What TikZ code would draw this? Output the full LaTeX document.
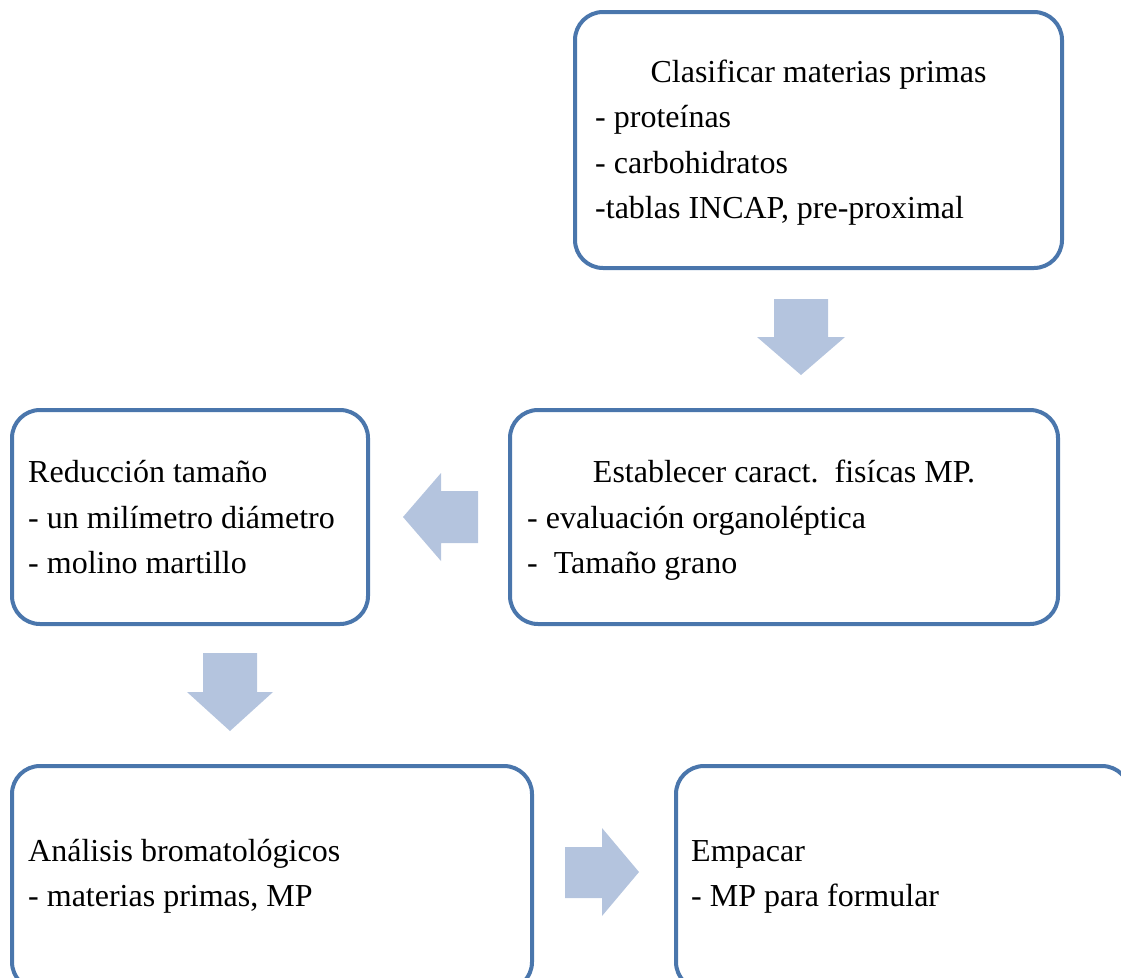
\documentclass[tikz,border=0pt]{standalone}
\usepackage{fontspec}
\setmainfont{Liberation Serif}
\definecolor{boxblue}{RGB}{74,118,172}
\definecolor{arrowfill}{RGB}{180,196,222}
\begin{document}
\frenchspacing
\begin{tikzpicture}[x=1pt,y=-1pt,
  box/.style={draw=boxblue, line width=4pt, rounded corners=28pt, anchor=north west, inner sep=0pt, outer sep=0pt},
  blk/.style={fill=arrowfill, draw=none},
  txt/.style={anchor=base west, inner sep=0pt, font=\fontsize{32}{40}\selectfont},
  ctxt/.style={anchor=base, inner sep=0pt, font=\fontsize{32}{40}\selectfont}]
\useasboundingbox (0,0) rectangle (1121,977);
\clip (0,0) rectangle (1121,977);
% boxes
\node[box, minimum width=487pt, minimum height=256pt] (b1) at (575,12) {};
\node[box, minimum width=548pt, minimum height=214pt] (b2) at (510,410) {};
\node[box, minimum width=356pt, minimum height=214pt] (b3) at (12,410) {};
\node[box, minimum width=520pt, minimum height=224pt] (b4) at (12,766) {};
\node[box, minimum width=454pt, minimum height=224pt] (b5) at (676,766) {};
% block arrows
\fill[blk] (774,299) -- (828,299) -- (828,337) -- (845,337) -- (801,375) -- (757,337) -- (774,337) -- cycle;
\fill[blk] (478,491) -- (478,543) -- (441,543) -- (441,561) -- (403,517) -- (441,473) -- (441,491) -- cycle;
\fill[blk] (203,653) -- (257,653) -- (257,692) -- (273,692) -- (230,731) -- (187,692) -- (203,692) -- cycle;
\fill[blk] (565,847) -- (602,847) -- (602,828) -- (639,872) -- (602,916) -- (602,898) -- (565,898) -- cycle;
% texts
\node[ctxt] (t11) at (818.5,82) {Clasificar materias primas};
\node[txt] (t12) at (595,127) {- proteínas};
\node[txt] (t13) at (595,173) {- carbohidratos};
\node[txt] (t14) at (595,218) {-tablas INCAP, pre-proximal};
\node[ctxt] (t21) at (784,482) {Establecer caract.\ \ fisícas MP.};
\node[txt] (t22) at (527,528) {- evaluación organoléptica};
\node[txt] (t23) at (527,573) {-\ \ Tamaño grano};
\node[txt] (t31) at (28,482) {Reducción tamaño};
\node[txt] (t32) at (28,528) {- un milímetro diámetro};
\node[txt] (t33) at (28,573) {- molino martillo};
\node[txt] (t41) at (28,861) {Análisis bromatológicos};
\node[txt] (t42) at (28,906) {- materias primas, MP};
\node[txt] (t51) at (691,861) {Empacar};
\node[txt] (t52) at (691,906) {- MP para formular};
\end{tikzpicture}
\end{document}
